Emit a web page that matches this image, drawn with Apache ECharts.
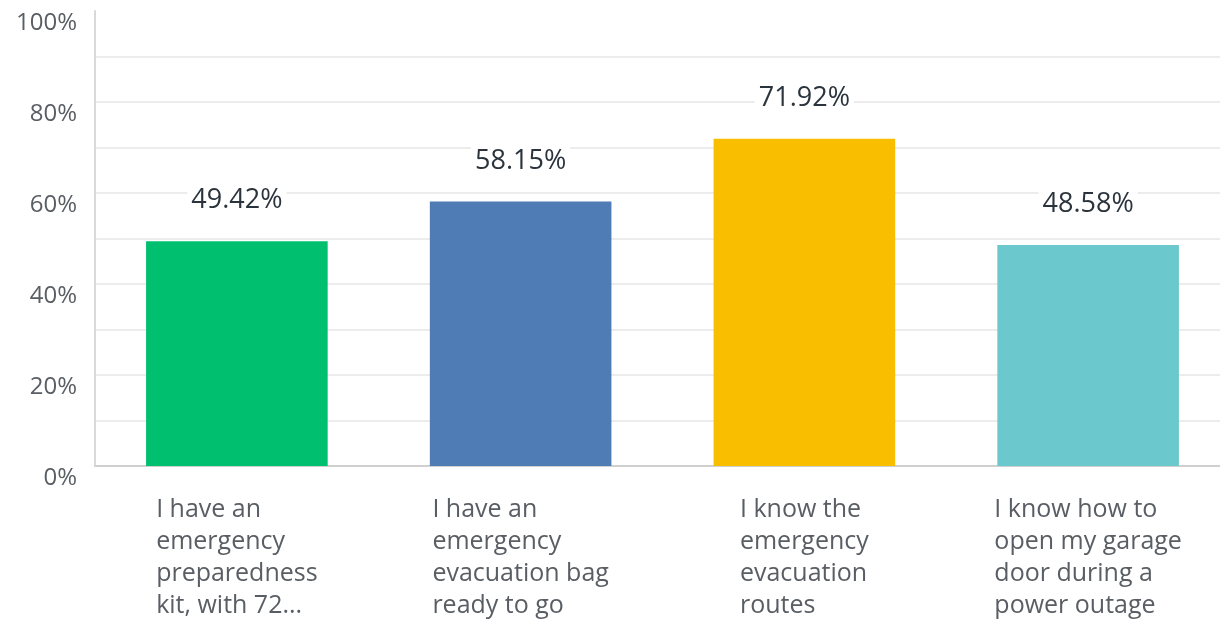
<!DOCTYPE html>
<html>
<head>
<meta charset="utf-8">
<script src="https://cdn.jsdelivr.net/npm/echarts@6/dist/echarts.min.js"></script>
<style>
html,body{margin:0;padding:0;background:#fff;}
#chart{width:1220px;height:621px;}
</style>
</head>
<body>
<div id="chart"></div>
<script>
const categories = [
  "I have an\nemergency\npreparedness\nkit, with 72...",
  "I have an\nemergency\nevacuation bag\nready to go",
  "I know the\nemergency\nevacuation\nroutes",
  "I know how to\nopen my garage\ndoor during a\npower outage"
];
const values = [49.42, 58.15, 71.92, 48.58];
const barColors = ["#00BF6F", "#507CB6", "#F9BE00", "#6BC8CD"];
const yTicks = [0, 20, 40, 60, 80, 100];

const chart = echarts.init(document.getElementById('chart'), null, {renderer: 'canvas'});
const font = '"Open Sans", sans-serif';
const gridCol = '#ececec';
chart.setOption({
  animation: false,
  backgroundColor: '#fff',
  grid: {left: 95, width: 1135, top: 11, bottom: 155, containLabel: false, outerBoundsMode: 'none'},
  xAxis: {
    type: 'category',
    data: categories,
    axisLine: {show: true, lineStyle: {color: '#d0d0d0', width: 2}},
    axisTick: {show: false},
    axisLabel: {
      interval: 0,
      margin: 28,
      formatter: function (v) { return '{l|' + v + '}'; },
      rich: {
        l: {align: 'left', fontFamily: font, fontSize: 25, lineHeight: 32, color: '#595e64'}
      }
    }
  },
  yAxis: {
    type: 'value',
    min: 0,
    max: 100,
    interval: 20,
    axisLine: {show: true, lineStyle: {color: '#d9d9d9', width: 2}},
    axisTick: {show: false},
    splitLine: {show: true, lineStyle: {color: [gridCol, gridCol, gridCol, gridCol, gridCol, 'rgba(0,0,0,0)'], width: 2}},
    minorTick: {show: false, splitNumber: 2},
    minorSplitLine: {show: true, lineStyle: {color: gridCol, width: 2}},
    axisLabel: {
      margin: 18,
      verticalAlign: 'top',
      fontFamily: font,
      fontSize: 24,
      color: '#595e64',
      formatter: function (v) { return yTicks.indexOf(v) >= 0 ? v + '%' : ''; }
    }
  },
  series: [{
    type: 'bar',
    barWidth: '64%',
    data: values.map(function (v, i) { return {value: v, itemStyle: {color: barColors[i]}}; }),
    label: {
      show: true,
      position: 'top',
      distance: 25,
      formatter: function (p) { return p.value.toFixed(2) + '%'; },
      fontFamily: font,
      fontSize: 27,
      color: '#2b343d',
      backgroundColor: '#fff',
      padding: [2, 4]
    }
  }]
});
</script>
</body>
</html>
